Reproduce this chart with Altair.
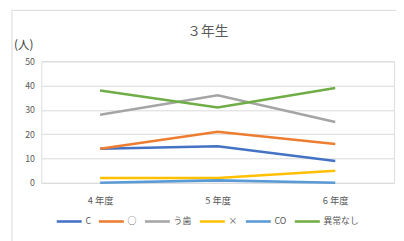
import altair as alt
import pandas as pd

years = ["4 年度", "5 年度", "6 年度"]
series = ["C", "○", "う歯", "×", "CO", "異常なし"]
colors = ["#4472C4", "#ED7D31", "#A5A5A5", "#FFC000", "#5B9BD5", "#70AD47"]
vals_C = [14, 15, 9]
vals_maru = [14, 21, 16]
vals_ushi = [28, 36, 25]
vals_batsu = [2, 2, 5]
vals_CO = [0, 1, 0]
vals_none = [38, 31, 39]

all_vals = [vals_C, vals_maru, vals_ushi, vals_batsu, vals_CO, vals_none]
rows = []
for si, (s, vs) in enumerate(zip(series, all_vals)):
    for y, v in zip(years, vs):
        rows.append({"series": s, "year": y, "value": v, "ord": si})
df = pd.DataFrame(rows)

FONT = "Noto Sans CJK JP"

lines = alt.Chart(df).mark_line(strokeWidth=2.6).encode(
    x=alt.X("year:N", sort=years, scale=alt.Scale(domain=years),
            axis=alt.Axis(title=None, labelAngle=0, domain=False, ticks=False,
                          labelColor="#595959", labelFontSize=9.5, labelFont=FONT,
                          labelPadding=13, grid=False)),
    y=alt.Y("value:Q", scale=alt.Scale(domain=[0, 50]),
            axis=alt.Axis(title=None, values=[0, 10, 20, 30, 40, 50], domain=False,
                          ticks=False, labelColor="#595959", labelFontSize=9,
                          labelFont=FONT, labelPadding=7, gridColor="#d9d9d9",
                          gridWidth=1)),
    color=alt.Color("series:N", sort=series,
                    scale=alt.Scale(domain=series, range=colors),
                    legend=alt.Legend(title=None, orient="none", direction="horizontal",
                                      legendX=14, legendY=149, symbolType="stroke",
                                      symbolSize=650, symbolStrokeWidth=2.6,
                                      labelFontSize=9, labelColor="#595959",
                                      labelFont=FONT, labelOffset=2,
                                      columnPadding=2, gridAlign="none")),
    order=alt.Order("ord:Q"),
    detail="series:N",
)

title = alt.Chart(pd.DataFrame({"t": ["３年生"]})).mark_text(
    font=FONT, fontSize=14, color="#595959", align="center", baseline="middle"
).encode(x=alt.value(170), y=alt.value(-30), text="t:N")

unit = alt.Chart(pd.DataFrame({"t": ["(人)"]})).mark_text(
    font=FONT, fontSize=12, color="#404040", align="left", baseline="middle"
).encode(x=alt.value(-28), y=alt.value(-17), text="t:N")

border = alt.Chart(pd.DataFrame({"a": [0]})).mark_rect(
    fill=None, stroke="#d9d9d9", strokeWidth=1
).encode(x=alt.value(-30), x2=alt.value(380), y=alt.value(-52), y2=alt.value(200))

chart = alt.layer(border, lines, title, unit).properties(
    width=360, height=124,
    autosize=alt.AutoSizeParams(type="none"),
    padding={"left": 34, "top": 52, "right": 2, "bottom": 57},
).configure_view(stroke=None).configure(background="white")

chart.save("out.html", embed_options={"renderer": "svg", "actions": False})
